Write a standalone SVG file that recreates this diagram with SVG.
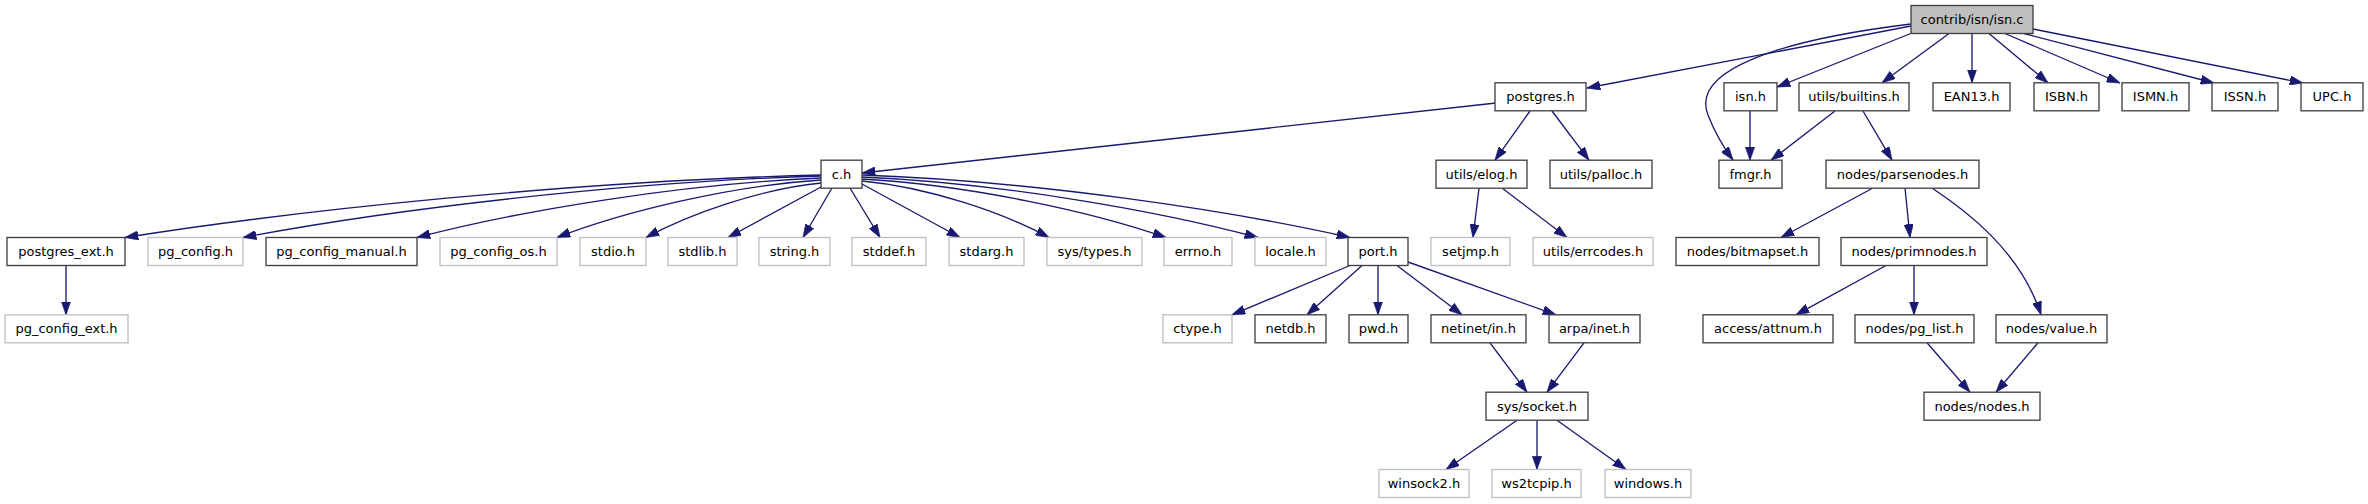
<svg xmlns="http://www.w3.org/2000/svg" width="2368" height="504" viewBox="0 0 2368 504">
<defs>
<style>
.nd rect{fill:#ffffff;stroke:#404040;stroke-width:1.33}
.gr rect{fill:#ffffff;stroke:#bfbfbf;stroke-width:1.33}
.rt rect{fill:#bfbfbf;stroke:#404040;stroke-width:1.33}
text{font-family:"DejaVu Sans","Liberation Sans",sans-serif;font-size:13px;text-anchor:middle;fill:#000}
#edges path{fill:none;stroke:#191970;stroke-width:1.33;marker-end:url(#ah)}
</style>
<marker id="ah" viewBox="0 0 10 7" refX="10" refY="3.5" markerWidth="13.3" markerHeight="9.3" markerUnits="userSpaceOnUse" orient="auto"><path d="M0,0L10,3.5L0,7z" fill="#191970" stroke="#191970" stroke-width="0.5"/></marker>
</defs>
<rect width="2368" height="504" fill="#ffffff"/>
<g id="edges">
<path d="M1911,26L1587,88"/>
<path d="M1911,24C1780,40 1690,70 1708,115C1715,133 1724,148 1733,160"/>
<path d="M1912,33L1777,87"/>
<path d="M1949,33.5L1882,82.8"/>
<path d="M1972,33.5L1972,82.8"/>
<path d="M1989,33.5L2048,82.8"/>
<path d="M2005,33.5L2120,83"/>
<path d="M2024,33.5L2214,83"/>
<path d="M2033,29L2303,83"/>
<path d="M1496,103L862,173"/>
<path d="M1530,111L1495,160.2"/>
<path d="M1552,111L1589,160.2"/>
<path d="M1750,111L1750,160.2"/>
<path d="M1835,111L1771,160.2"/>
<path d="M1863,111L1892,160.2"/>
<path d="M821,175C577,181 299,210 125,237.5"/>
<path d="M821,176C619,182 388,210 243,237.5"/>
<path d="M821,178C680,184 518,211 417,237.5"/>
<path d="M821,180C729,186 623,212 557,237.5"/>
<path d="M821,183C760,189 690,214 646,237.5"/>
<path d="M821,187L728,237.5"/>
<path d="M832,188L803,237.5"/>
<path d="M850,188L880,237.5"/>
<path d="M862,184L960,237.5"/>
<path d="M862,181C927,187 1002,212 1049,237.5"/>
<path d="M862,179C968,185 1090,211 1166,237.5"/>
<path d="M862,177C1001,183 1159,211 1258,237.5"/>
<path d="M862,175C1033,181 1228,210 1350,237.5"/>
<path d="M1479,188L1473,237.5"/>
<path d="M1502,188L1567,237.5"/>
<path d="M1873,188L1781,237.5"/>
<path d="M1905,188L1910,237.5"/>
<path d="M1932,188C1965,210 2020,250 2041,314.8"/>
<path d="M66,265.5L66,314.8"/>
<path d="M1350,265.5L1232,314.8"/>
<path d="M1362,265.5L1307,314.8"/>
<path d="M1378,265.5L1378,314.8"/>
<path d="M1397,265.5L1462,314.8"/>
<path d="M1408,262L1556,314.8"/>
<path d="M1886,265.5L1796,314.8"/>
<path d="M1914,265.5L1914,314.8"/>
<path d="M1490,342.8L1527,392.2"/>
<path d="M1584,342.8L1547,392.2"/>
<path d="M1927,342.8L1970,392.2"/>
<path d="M2038,342.8L1996,392.2"/>
<path d="M1517,420.2L1446,469.5"/>
<path d="M1537,420.2L1537,469.5"/>
<path d="M1557,420.2L1626,469.5"/>
</g>
<g id="n_isn_c" class="rt"><rect x="1911" y="5.5" width="122" height="28"/><text x="1972" y="24">contrib/isn/isn.c</text></g>
<g id="n_postgres_h" class="nd"><rect x="1495" y="82.8" width="91" height="28"/><text x="1540.5" y="101.3">postgres.h</text></g>
<g id="n_isn_h" class="nd"><rect x="1724" y="82.8" width="53" height="28"/><text x="1750.5" y="101.3">isn.h</text></g>
<g id="n_builtins_h" class="nd"><rect x="1799" y="82.8" width="110" height="28"/><text x="1854" y="101.3">utils/builtins.h</text></g>
<g id="n_ean13_h" class="nd"><rect x="1933" y="82.8" width="77" height="28"/><text x="1971.5" y="101.3">EAN13.h</text></g>
<g id="n_isbn_h" class="nd"><rect x="2034" y="82.8" width="65" height="28"/><text x="2066.5" y="101.3">ISBN.h</text></g>
<g id="n_ismn_h" class="nd"><rect x="2122" y="82.8" width="67" height="28"/><text x="2155.5" y="101.3">ISMN.h</text></g>
<g id="n_issn_h" class="nd"><rect x="2212" y="82.8" width="66" height="28"/><text x="2245" y="101.3">ISSN.h</text></g>
<g id="n_upc_h" class="nd"><rect x="2301" y="82.8" width="62" height="28"/><text x="2332" y="101.3">UPC.h</text></g>
<g id="n_c_h" class="nd"><rect x="821" y="160.2" width="41" height="28"/><text x="841.5" y="178.7">c.h</text></g>
<g id="n_elog_h" class="nd"><rect x="1436" y="160.2" width="91" height="28"/><text x="1481.5" y="178.7">utils/elog.h</text></g>
<g id="n_palloc_h" class="nd"><rect x="1550" y="160.2" width="102" height="28"/><text x="1601" y="178.7">utils/palloc.h</text></g>
<g id="n_fmgr_h" class="nd"><rect x="1719" y="160.2" width="63" height="28"/><text x="1750.5" y="178.7">fmgr.h</text></g>
<g id="n_parsenodes_h" class="nd"><rect x="1826" y="160.2" width="153" height="28"/><text x="1902.5" y="178.7">nodes/parsenodes.h</text></g>
<g id="n_postgres_ext_h" class="nd"><rect x="7" y="237.5" width="118" height="28"/><text x="66" y="256">postgres_ext.h</text></g>
<g id="n_pg_config_h" class="gr"><rect x="148" y="237.5" width="95" height="28"/><text x="195.5" y="256">pg_config.h</text></g>
<g id="n_pg_config_manual_h" class="nd"><rect x="266" y="237.5" width="151" height="28"/><text x="341.5" y="256">pg_config_manual.h</text></g>
<g id="n_pg_config_os_h" class="gr"><rect x="440" y="237.5" width="117" height="28"/><text x="498.5" y="256">pg_config_os.h</text></g>
<g id="n_stdio_h" class="gr"><rect x="580" y="237.5" width="66" height="28"/><text x="613" y="256">stdio.h</text></g>
<g id="n_stdlib_h" class="gr"><rect x="668" y="237.5" width="69" height="28"/><text x="702.5" y="256">stdlib.h</text></g>
<g id="n_string_h" class="gr"><rect x="759" y="237.5" width="71" height="28"/><text x="794.5" y="256">string.h</text></g>
<g id="n_stddef_h" class="gr"><rect x="852" y="237.5" width="74" height="28"/><text x="889" y="256">stddef.h</text></g>
<g id="n_stdarg_h" class="gr"><rect x="949" y="237.5" width="75" height="28"/><text x="986.5" y="256">stdarg.h</text></g>
<g id="n_sys_types_h" class="gr"><rect x="1047" y="237.5" width="95" height="28"/><text x="1094.5" y="256">sys/types.h</text></g>
<g id="n_errno_h" class="gr"><rect x="1164" y="237.5" width="68" height="28"/><text x="1198" y="256">errno.h</text></g>
<g id="n_locale_h" class="gr"><rect x="1255" y="237.5" width="71" height="28"/><text x="1290.5" y="256">locale.h</text></g>
<g id="n_port_h" class="nd"><rect x="1348" y="237.5" width="60" height="28"/><text x="1378" y="256">port.h</text></g>
<g id="n_setjmp_h" class="gr"><rect x="1431" y="237.5" width="79" height="28"/><text x="1470.5" y="256">setjmp.h</text></g>
<g id="n_errcodes_h" class="gr"><rect x="1533" y="237.5" width="120" height="28"/><text x="1593" y="256">utils/errcodes.h</text></g>
<g id="n_bitmapset_h" class="nd"><rect x="1676" y="237.5" width="143" height="28"/><text x="1747.5" y="256">nodes/bitmapset.h</text></g>
<g id="n_primnodes_h" class="nd"><rect x="1841" y="237.5" width="146" height="28"/><text x="1914" y="256">nodes/primnodes.h</text></g>
<g id="n_pg_config_ext_h" class="gr"><rect x="5" y="314.8" width="123" height="28"/><text x="66.5" y="333.3">pg_config_ext.h</text></g>
<g id="n_ctype_h" class="gr"><rect x="1163" y="314.8" width="69" height="28"/><text x="1197.5" y="333.3">ctype.h</text></g>
<g id="n_netdb_h" class="nd"><rect x="1255" y="314.8" width="71" height="28"/><text x="1290.5" y="333.3">netdb.h</text></g>
<g id="n_pwd_h" class="nd"><rect x="1349" y="314.8" width="59" height="28"/><text x="1378.5" y="333.3">pwd.h</text></g>
<g id="n_netinet_in_h" class="nd"><rect x="1431" y="314.8" width="95" height="28"/><text x="1478.5" y="333.3">netinet/in.h</text></g>
<g id="n_arpa_inet_h" class="nd"><rect x="1549" y="314.8" width="91" height="28"/><text x="1594.5" y="333.3">arpa/inet.h</text></g>
<g id="n_attnum_h" class="nd"><rect x="1703" y="314.8" width="130" height="28"/><text x="1768" y="333.3">access/attnum.h</text></g>
<g id="n_pg_list_h" class="nd"><rect x="1855" y="314.8" width="119" height="28"/><text x="1914.5" y="333.3">nodes/pg_list.h</text></g>
<g id="n_value_h" class="nd"><rect x="1996" y="314.8" width="111" height="28"/><text x="2051.5" y="333.3">nodes/value.h</text></g>
<g id="n_socket_h" class="nd"><rect x="1486" y="392.2" width="102" height="28"/><text x="1537" y="410.7">sys/socket.h</text></g>
<g id="n_nodes_h" class="nd"><rect x="1924" y="392.2" width="116" height="28"/><text x="1982" y="410.7">nodes/nodes.h</text></g>
<g id="n_winsock2_h" class="gr"><rect x="1379" y="469.5" width="90" height="28"/><text x="1424" y="488">winsock2.h</text></g>
<g id="n_ws2tcpip_h" class="gr"><rect x="1492" y="469.5" width="89" height="28"/><text x="1536.5" y="488">ws2tcpip.h</text></g>
<g id="n_windows_h" class="gr"><rect x="1605" y="469.5" width="86" height="28"/><text x="1648" y="488">windows.h</text></g>
</svg>
